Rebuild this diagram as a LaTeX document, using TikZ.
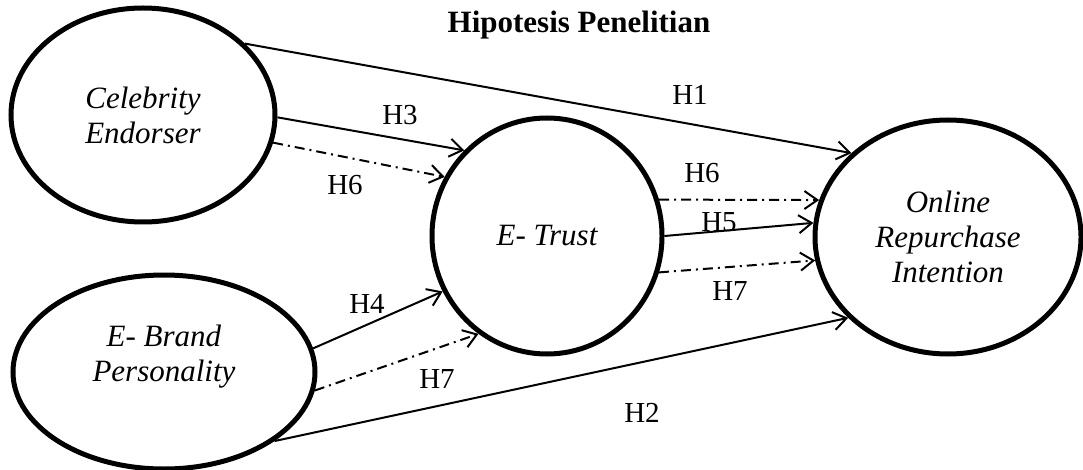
\documentclass[tikz,border=0pt]{standalone}
\usepackage{fontspec}
\setmainfont{Liberation Serif}
\usetikzlibrary{shapes.geometric,arrows.meta}
\begin{document}
\begin{tikzpicture}[x=1pt,y=-1pt,
  construct/.style={draw, ellipse, line width=5pt, inner sep=0pt, font=\fontsize{31}{35}\selectfont\itshape, align=center},
  hyp/.style={line width=2pt, -{Straight Barb[length=13pt,width=18pt]}},
  med/.style={hyp, dash pattern=on 10pt off 5pt on 2pt off 5pt},
  lab/.style={anchor=base, font=\fontsize{29}{34}\selectfont, inner sep=0pt}]
\useasboundingbox (0,0) rectangle (1083,470);
\fill[white] (0,0) rectangle (1083,470);

\node[anchor=base, inner sep=0pt, font=\fontsize{31}{36}\selectfont\bfseries] (title) at (579,33) {Hipotesis Penelitian};

\node[construct, minimum width=264pt, minimum height=214pt] (ce) at (143,115) {Celebrity\\Endorser};
\node[construct, minimum width=302pt, minimum height=194pt,
      label={[font=\fontsize{31}{35}\selectfont\itshape, align=center, yshift=15pt]center:{E- Brand\\Personality}}] (ebp) at (164,372) {};
\node[construct, minimum width=230pt, minimum height=236pt] (et) at (547,236) {E- Trust};
\node[construct, minimum width=266pt, minimum height=234pt] (ori) at (948,237) {Online\\Repurchase\\Intention};

% direct effects
\draw[hyp] (ce.35.8) -- (ori.139.4);
\draw[hyp] (ce.-1) -- (et.134.7);
\draw[med] (ce.-12.7) -- (et.150.4);
\draw[hyp] (ebp.9.5) -- (et.208.7);
\draw[med] (ebp.-7.9) -- (et.235.7);
\draw[hyp] (ebp.-32.1) -- (ori.219.2);
\draw[med] (et.18) -- (ori.164.8);
\draw[hyp] (et.-0.5) -- (ori.174.5);
\draw[med] (et.-18.9) -- (ori.190.4);

% labels
\node[lab] (h1) at (690,105) {H1};
\node[lab] (h3) at (400,125) {H3};
\node[lab] (h6a) at (345,195) {H6};
\node[lab] (h6b) at (702,183) {H6};
\node[lab] (h5) at (719,232) {H5};
\node[lab] (h7b) at (730,300) {H7};
\node[lab] (h4) at (367,313) {H4};
\node[lab] (h7a) at (437,388) {H7};
\node[lab] (h2) at (642,422) {H2};
\end{tikzpicture}
\end{document}
